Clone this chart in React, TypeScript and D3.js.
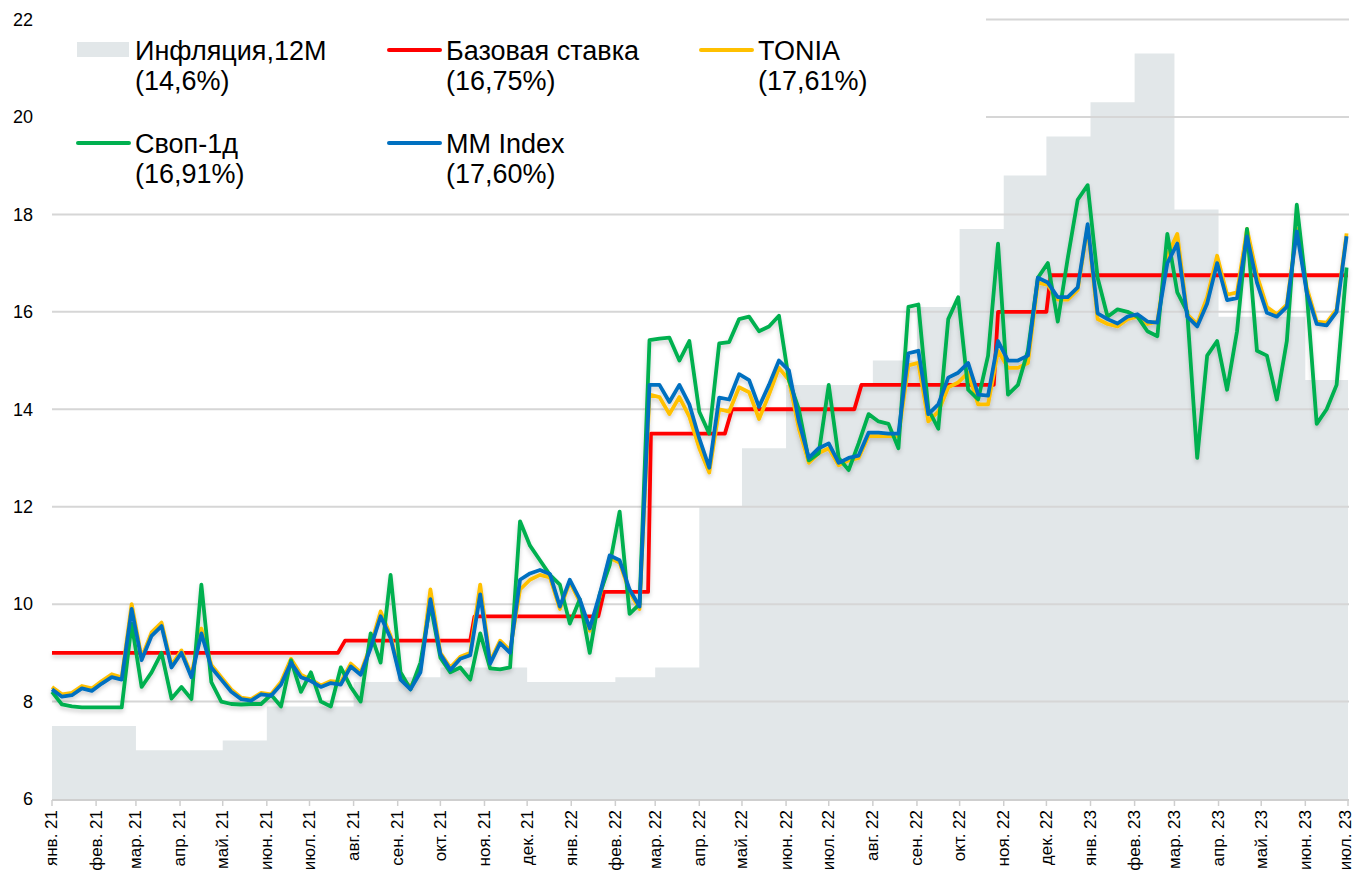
import React, { useEffect, useRef } from "react";
import * as d3 from "d3";

const W = 1357;
const H = 874;

// weekly fixings, first one on 1 Jan 2021
const weekStart = new Date(2021, 0, 1);

const mmIndex = [
  8.25, 8.1, 8.13, 8.27, 8.22, 8.37, 8.5, 8.45, 9.9, 8.85,
  9.35, 9.55, 8.7, 9.0, 8.5, 9.4, 8.7, 8.45, 8.2, 8.05,
  8.02, 8.15, 8.12, 8.35, 8.8, 8.5, 8.42, 8.3, 8.38, 8.35,
  8.72, 8.55, 9.1, 9.75, 9.3, 8.45, 8.25, 8.6, 10.1, 8.97,
  8.65, 8.88, 8.95, 10.2, 8.78, 9.2, 9.0, 10.5, 10.63, 10.7,
  10.62, 9.95, 10.5, 10.1, 9.5, 10.2, 11.0, 10.9, 10.3, 9.95,
  14.5, 14.5, 14.15, 14.5, 14.1, 13.4, 12.8, 14.24, 14.2, 14.72,
  14.6, 14.05, 14.5, 15.0, 14.8, 13.75, 13.0, 13.2, 13.3, 12.9,
  13.0, 13.05, 13.52, 13.52, 13.5, 13.5, 15.15, 15.2, 13.9, 14.1,
  14.65, 14.75, 14.95, 14.3, 14.28, 15.4, 15.0, 15.0, 15.1, 16.7,
  16.6, 16.3, 16.3, 16.5, 17.8, 15.97, 15.85, 15.76, 15.9, 15.95,
  15.8, 15.78, 17.0, 17.4, 15.9, 15.7, 16.17, 17.0, 16.24, 16.28,
  17.55, 16.6, 15.98, 15.9, 16.1, 17.65, 16.4, 15.75, 15.72, 16.0, 17.55,
];

const tonia = [
  8.3, 8.15, 8.18, 8.32, 8.27, 8.42, 8.56, 8.5, 10.0, 8.9,
  9.42, 9.62, 8.75, 9.05, 8.55, 9.5, 8.75, 8.5, 8.25, 8.08,
  8.05, 8.18, 8.15, 8.4, 8.88, 8.55, 8.45, 8.33, 8.42, 8.4,
  8.78, 8.6, 9.15, 9.85, 9.35, 8.5, 8.3, 8.65, 10.3, 9.0,
  8.7, 8.92, 9.0, 10.4, 8.82, 9.25, 9.05, 10.3, 10.5, 10.6,
  10.55, 9.9, 10.45, 10.05, 9.45, 10.15, 10.95, 10.85, 10.25, 9.9,
  14.3, 14.25, 13.9, 14.25, 13.85, 13.2, 12.7, 14.0, 13.95, 14.45,
  14.35, 13.8, 14.3, 14.85, 14.6, 13.6, 12.9, 13.1, 13.2, 12.85,
  12.95, 13.0, 13.45, 13.45, 13.45, 13.45, 14.9, 14.95, 13.75, 13.95,
  14.45, 14.55, 14.75, 14.1, 14.1, 15.2, 14.85, 14.85, 14.95, 16.6,
  16.55, 16.25, 16.25, 16.45, 17.75, 15.85, 15.75, 15.7, 15.85, 15.9,
  15.75, 15.8, 17.15, 17.6, 15.95, 15.75, 16.3, 17.15, 16.35, 16.4,
  17.7, 16.75, 16.1, 15.95, 16.15, 17.7, 16.5, 15.8, 15.78, 16.05, 17.61,
];

const swap1d = [
  8.2, 7.94, 7.9, 7.88, 7.88, 7.88, 7.88, 7.88, 9.6, 8.3,
  8.6, 9.0, 8.06, 8.3, 8.05, 10.4, 8.4, 8.0, 7.95, 7.94,
  7.95, 7.95, 8.14, 7.9, 8.85, 8.2, 8.6, 8.0, 7.9, 8.7,
  8.3, 8.0, 9.4, 8.8, 10.6, 8.6, 8.25, 8.8, 10.0, 8.9,
  8.6, 8.7, 8.45, 9.4, 8.68, 8.66, 8.7, 11.7, 11.2, 10.9,
  10.6, 10.4, 9.6, 10.1, 9.0, 10.2, 10.8, 11.9, 9.8, 10.0,
  15.42, 15.45, 15.47, 15.0, 15.4, 13.95, 13.5, 15.35, 15.38, 15.85,
  15.9, 15.6, 15.7, 15.92, 14.6, 14.0, 12.95, 13.1, 14.5, 13.0,
  12.75, 13.3, 13.9, 13.75, 13.7, 13.2, 16.1, 16.15, 14.0, 13.6,
  15.85, 16.3, 14.4, 14.2, 15.1, 17.4, 14.3, 14.5, 15.2, 16.7,
  17.0, 15.8, 17.1, 18.3, 18.6, 16.7, 15.9, 16.05, 16.0, 15.9,
  15.6, 15.5, 17.6, 16.4, 16.0, 13.0, 15.1, 15.4, 14.4, 15.6,
  17.7, 15.2, 15.1, 14.2, 15.4, 18.2, 16.4, 13.7, 14.0, 14.5, 16.91,
];

const keyRateDates = [
  "2021-01-01", "2021-07-21", "2021-07-26", "2021-10-22", "2021-10-25",
  "2022-01-20", "2022-01-24", "2022-02-24", "2022-02-26", "2022-04-19",
  "2022-04-24", "2022-07-19", "2022-07-24", "2022-10-25", "2022-10-28",
  "2022-12-01", "2022-12-04", "2023-07-01",
];
const keyRate = [
  9.0, 9.0, 9.25, 9.25, 9.75,
  9.75, 10.25, 10.25, 13.5, 13.5,
  14.0, 14.0, 14.5, 14.5, 16.0,
  16.0, 16.75, 16.75,
];

// monthly values, Jan 2021 .. Jun 2023
const inflation12m = [
  7.5, 7.5, 7.0, 7.0, 7.2, 7.9, 7.9, 8.4, 8.5, 8.7, 8.7, 8.4,
  8.4, 8.5, 8.7, 12.0, 13.2, 14.5, 14.5, 15.0, 16.1, 17.7, 18.8, 19.6,
  20.3, 21.3, 18.1, 15.9, 15.9, 14.6,
];

const monthNames = ["янв.", "фев.", "мар.", "апр.", "май.", "июн.", "июл.", "авг.", "сен.", "окт.", "ноя.", "дек."];
const yTicks = [6, 8, 10, 12, 14, 16, 18, 20, 22];

const legendItems = [
  { name: "Инфляция,12М", last: "(14,6%)", color: "#e2e7e9", kind: "area", col: 0, row: 0 },
  { name: "Базовая ставка", last: "(16,75%)", color: "#ff0000", kind: "line", col: 1, row: 0 },
  { name: "TONIA", last: "(17,61%)", color: "#ffc000", kind: "line", col: 2, row: 0 },
  { name: "Своп-1д", last: "(16,91%)", color: "#00b050", kind: "line", col: 0, row: 1 },
  { name: "MM Index", last: "(17,60%)", color: "#0070c0", kind: "line", col: 1, row: 1 },
];

const FONT = "'Liberation Sans', Arial, sans-serif";

export default function App() {
  const ref = useRef<SVGSVGElement>(null);

  useEffect(() => {
    document.body.style.margin = "0";
    const svg = d3.select(ref.current);
    svg.selectAll("*").remove();

    const x = d3.scaleTime()
      .domain([new Date(2021, 0, 1), new Date(2023, 6, 1)])
      .range([52, 1348]);
    const y = d3.scaleLinear().domain([6, 22]).range([799, 19.5]);

    const defs = svg.append("defs");
    const f = defs.append("filter").attr("id", "shadow")
      .attr("x", "-5%").attr("y", "-20%").attr("width", "110%").attr("height", "140%");
    f.append("feDropShadow").attr("dx", 0).attr("dy", 3).attr("stdDeviation", 2)
      .attr("flood-color", "#000").attr("flood-opacity", 0.18);

    // inflation area
    const infl = inflation12m.map((v, i) => ({ date: d3.timeMonth.offset(new Date(2021, 0, 1), i), v }));
    infl.push({ date: new Date(2023, 6, 1), v: inflation12m[inflation12m.length - 1] });
    const area = d3.area<any>()
      .curve(d3.curveStepAfter)
      .x(d => x(d.date))
      .y0(y(6))
      .y1(d => y(d.v));
    svg.append("path").datum(infl)
      .attr("d", area)
      .attr("fill", "#e2e7e9");

    // gridlines
    svg.append("g").selectAll("line")
      .data(yTicks.filter(t => t > 6))
      .enter().append("line")
      .attr("x1", 52).attr("x2", 1349)
      .attr("y1", d => y(d)).attr("y2", d => y(d))
      .attr("stroke", "#d6d6d6").attr("stroke-width", 2);

    // y labels
    svg.append("g").selectAll("text")
      .data(yTicks)
      .enter().append("text")
      .attr("x", 33).attr("y", d => y(d)).attr("dy", "0.35em")
      .attr("text-anchor", "end")
      .style("font-family", FONT).style("font-size", "18px")
      .attr("fill", "#000")
      .text(d => d);

    // x axis
    const months = d3.timeMonth.range(new Date(2021, 0, 1), new Date(2023, 6, 2));
    svg.append("line")
      .attr("x1", 52).attr("x2", 1349).attr("y1", 800).attr("y2", 800)
      .attr("stroke", "#cfcfcf").attr("stroke-width", 2);
    svg.append("g").selectAll("line")
      .data(months).enter().append("line")
      .attr("x1", d => x(d)).attr("x2", d => x(d))
      .attr("y1", 800).attr("y2", 806)
      .attr("stroke", "#cfcfcf").attr("stroke-width", 1.5);
    svg.append("g").selectAll("text")
      .data(months).enter().append("text")
      .attr("transform", d => "translate(" + Math.min(x(d), 1346) + ",810) rotate(-90)")
      .attr("dy", "0.32em")
      .attr("text-anchor", "end")
      .style("font-family", FONT).style("font-size", "17px")
      .attr("fill", "#000")
      .text(d => monthNames[d.getMonth()] + " " + String(d.getFullYear() % 100));

    // legend background hides the top gridlines
    svg.append("rect")
      .attr("x", 50).attr("y", 0).attr("width", 936).attr("height", 196)
      .attr("fill", "#fff");

    // lines
    const lines = svg.append("g").attr("filter", "url(#shadow)");
    const parse = d3.timeParse("%Y-%m-%d");
    const redPts = keyRateDates.map((s, i) => ({ date: parse(s) as Date, v: keyRate[i] }));
    const weekly = (arr: number[]) => arr.map((v, i) => ({ date: d3.timeDay.offset(weekStart, 7 * i), v }));
    const line = d3.line<any>().x(d => x(d.date)).y(d => y(d.v));

    const series = [
      { pts: redPts, color: "#ff0000" },
      { pts: weekly(tonia), color: "#ffc000" },
      { pts: weekly(swap1d), color: "#00b050" },
      { pts: weekly(mmIndex), color: "#0070c0" },
    ];
    series.forEach(s => {
      lines.append("path").datum(s.pts)
        .attr("d", line)
        .attr("fill", "none")
        .attr("stroke", s.color)
        .attr("stroke-width", 3.8)
        .attr("stroke-linejoin", "round");
    });

    // legend
    const colX = [77, 388, 700];
    const rowY = [0, 93];
    const lg = svg.append("g");
    legendItems.forEach(it => {
      const x0 = colX[it.col];
      const y0 = rowY[it.row];
      if (it.kind === "area") {
        lg.append("rect").attr("x", x0).attr("y", y0 + 42).attr("width", 52).attr("height", 15)
          .attr("fill", it.color);
      } else {
        lg.append("line").attr("x1", x0 + 1).attr("x2", x0 + 52)
          .attr("y1", y0 + 50).attr("y2", y0 + 50)
          .attr("stroke", it.color).attr("stroke-width", 4).attr("stroke-linecap", "round");
      }
      const t = lg.append("text")
        .style("font-family", FONT).style("font-size", "27px").attr("fill", "#000");
      t.append("tspan").attr("x", x0 + 58).attr("y", y0 + 60).text(it.name);
      t.append("tspan").attr("x", x0 + 58).attr("y", y0 + 90).text(it.last);
    });
  }, []);

  return (
    <svg ref={ref} width={W} height={H} style={{ display: "block", background: "#fff" }} />
  );
}
